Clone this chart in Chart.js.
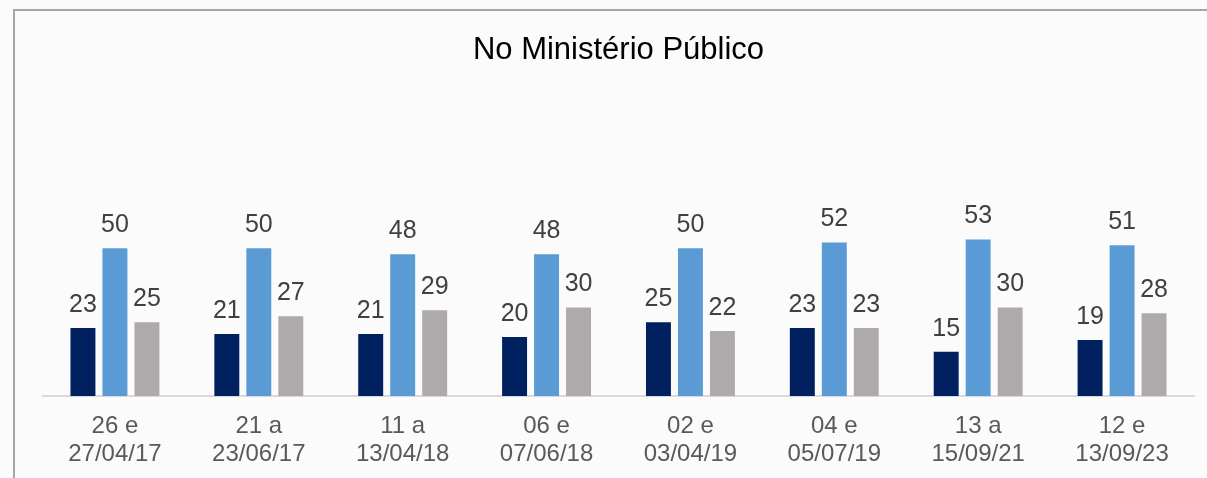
<!DOCTYPE html>
<html>
<head>
<meta charset="utf-8">
<script src="https://cdn.jsdelivr.net/npm/chart.js@4"></script>
<style>
  html, body { margin: 0; padding: 0; background: #fbfbfb; }
  #wrap { width: 1207px; height: 478px; position: relative; }
</style>
</head>
<body>
<div id="wrap"><canvas id="mpChart" width="1207" height="478"></canvas></div>
<script>
const categories = [
    ['26 e', '27/04/17'],
    ['21 a', '23/06/17'],
    ['11 a', '13/04/18'],
    ['06 e', '07/06/18'],
    ['02 e', '03/04/19'],
    ['04 e', '05/07/19'],
    ['13 a', '15/09/21'],
    ['12 e', '13/09/23']
];
const serieA = [23, 21, 21, 20, 25, 23, 15, 19];
const serieB = [50, 50, 48, 48, 50, 52, 53, 51];
const serieC = [25, 27, 29, 30, 22, 23, 30, 28];

// frame + value labels drawn on the canvas
const framePlugin = {
    id: 'frame',
    beforeDraw(chart) {
        const ctx = chart.ctx;
        ctx.save();
        ctx.fillStyle = '#fbfbfb';
        ctx.fillRect(0, 0, chart.width, chart.height);
        ctx.strokeStyle = '#a6a6a6';
        ctx.lineWidth = 2;
        ctx.beginPath();
        ctx.moveTo(14, chart.height);
        ctx.lineTo(14, 10);
        ctx.lineTo(chart.width, 10);
        ctx.stroke();
        ctx.restore();
    },
    afterDatasetsDraw(chart) {
        const ctx = chart.ctx;
        ctx.save();
        ctx.font = '25px "Liberation Sans", Arial, sans-serif';
        ctx.fillStyle = '#404040';
        ctx.textAlign = 'center';
        ctx.textBaseline = 'alphabetic';
        chart.data.datasets.forEach((ds, i) => {
            chart.getDatasetMeta(i).data.forEach((bar, j) => {
                ctx.fillText(ds.data[j], bar.x, bar.y - 16);
            });
        });
        ctx.restore();
    }
};

const ctx = document.getElementById('mpChart').getContext('2d');
new Chart(ctx, {
    type: 'bar',
    data: {
        labels: categories,
        datasets: [
            { label: 'A', data: serieA, backgroundColor: '#002060' },
            { label: 'B', data: serieB, backgroundColor: '#5b9bd5' },
            { label: 'C', data: serieC, backgroundColor: '#aeaaaa' }
        ]
    },
    options: {
        responsive: false,
        animation: false,
        categoryPercentage: 0.667,
        barPercentage: 0.78,
        layout: { padding: { left: 43, right: 13, top: 0, bottom: 0 } },
        scales: {
            x: {
                grid: { display: false },
                border: { display: true, color: '#d9d9d9', width: 2 },
                ticks: {
                    color: '#595959',
                    padding: 9,
                    maxRotation: 0,
                    font: { family: '"Liberation Sans", Arial, sans-serif', size: 24, lineHeight: 1.146 }
                },
                afterFit(scale) { scale.height = 82; }
            },
            y: {
                display: false,
                min: 0,
                max: 101.5
            }
        },
        plugins: {
            legend: { display: false },
            tooltip: { enabled: false },
            title: {
                display: true,
                text: 'No Ministério Público',
                color: '#000000',
                font: { family: '"Liberation Sans", Arial, sans-serif', size: 31, weight: 'normal', lineHeight: 1.2 },
                padding: { top: 32, bottom: 27 }
            }
        }
    },
    plugins: [framePlugin]
});
</script>
</body>
</html>
